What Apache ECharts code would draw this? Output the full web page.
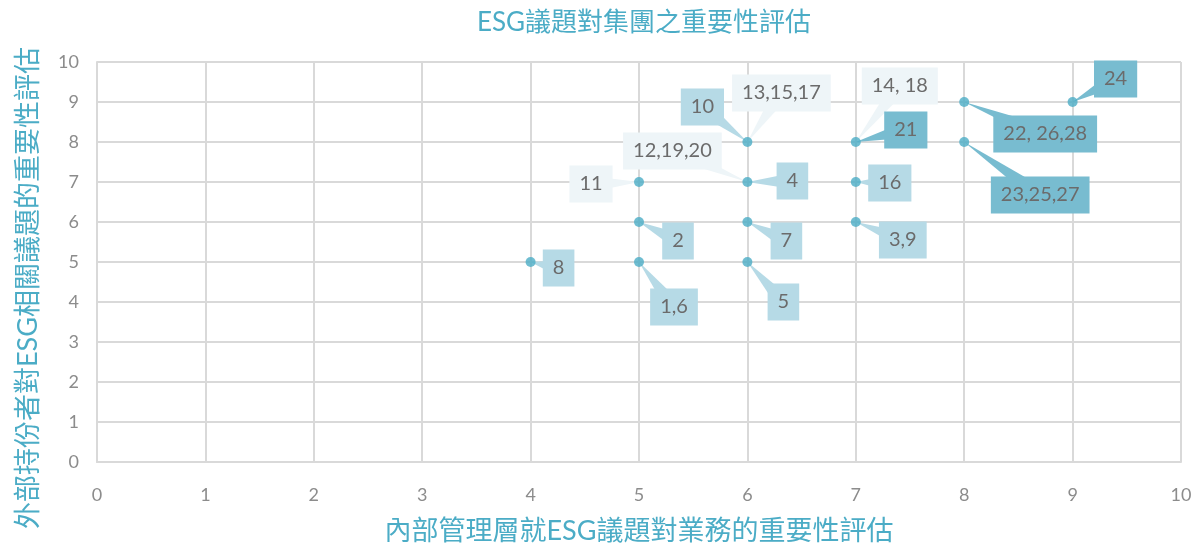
<!DOCTYPE html>
<html>
<head>
<meta charset="utf-8">
<script src="https://cdn.jsdelivr.net/npm/echarts@6/dist/echarts.min.js"></script>
<style>html,body{margin:0;padding:0;background:#fff}#c{width:1203px;height:549px}</style>
</head>
<body>
<div id="c"></div>
<script>
// ---- data ----
const chartTitle = 'ESG議題對集團之重要性評估';
const xAxisName = '內部管理層就ESG議題對業務的重要性評估';
const yAxisName = '外部持份者對ESG相關議題的重要性評估';
const axisTicks = [0, 1, 2, 3, 4, 5, 6, 7, 8, 9, 10];

// issue points (internal score, external score)
const pointX = [4, 5, 5, 5, 6, 6, 6, 6, 7, 7, 7, 8, 8, 9];
const pointY = [5, 5, 6, 7, 5, 6, 7, 8, 6, 7, 8, 8, 9, 9];

// callout labels (issue numbers) attached to points
const labelText = ['8', '1,6', '2', '11', '12,19,20', '4', '7', '5', '10', '13,15,17', '14, 18', '21', '16', '3,9', '22, 26,28', '23,25,27', '24'];
const labelX    = [4, 5, 5, 5, 6, 6, 6, 6, 6, 6, 7, 7, 7, 7, 8, 8, 9];
const labelY    = [5, 5, 6, 7, 7, 7, 6, 5, 8, 8, 8, 8, 7, 6, 9, 8, 9];

// ---- layout / style (not data) ----
const labelOffset = [[28,6],[35,45],[39,19],[-48,2],[-75,-31],[45,-1],[39,19],[36,40],[-45,-35],[34,-49],[44,-56],[50,-12],[34,1],[47,18],[81,32],[76,53],[43,-23]];
const labelTone   = [1,1,1,0,0,1,1,1,1,0,0,2,1,1,2,2,2];
const toneColors  = ['#EEF5F8', '#B6DAE6', '#78BCD0'];
const accent = '#4BACC6';
const font = 'Lato, "Noto Sans CJK TC", sans-serif';

const labelData = labelText.map((t, i) => [labelX[i], labelY[i], i]);

const chart = echarts.init(document.getElementById('c'));
chart.setOption({
  animation: false,
  backgroundColor: '#fff',
  title: {
    text: chartTitle,
    left: 639, top: 5, textAlign: 'center',
    textStyle: { color: accent, fontSize: 26, fontWeight: 'normal', fontFamily: font }
  },
  graphic: [{
    type: 'text', x: 28, y: 288, rotation: Math.PI / 2,
    style: { text: yAxisName, fill: accent, font: '27px ' + font, align: 'center', verticalAlign: 'middle' }
  }],
  grid: { left: 97, right: 22, top: 62, bottom: 87, containLabel: false, outerBoundsMode: 'none' },
  xAxis: {
    type: 'value', min: 0, max: 10, interval: 1,
    name: xAxisName, nameLocation: 'middle', nameGap: 56,
    nameTextStyle: { color: accent, fontSize: 27, fontFamily: font },
    axisLine: { show: true, lineStyle: { color: '#D9D9D9', width: 2 } },
    axisTick: { show: false },
    axisLabel: { color: '#8C8C8C', fontSize: 18, fontFamily: font, margin: 24,
      formatter: v => axisTicks.includes(v) ? String(v) : '' },
    splitLine: { show: true, lineStyle: { color: '#D9D9D9', width: 2 } }
  },
  yAxis: {
    type: 'value', min: 0, max: 10, interval: 1,
    axisLine: { show: true, lineStyle: { color: '#D9D9D9', width: 2 } },
    axisTick: { show: false },
    axisLabel: { color: '#8C8C8C', fontSize: 18, fontFamily: font, margin: 18,
      formatter: v => axisTicks.includes(v) ? String(v) : '' },
    splitLine: { show: true, lineStyle: { color: '#D9D9D9', width: 2 } }
  },
  series: [
    {
      type: 'custom',
      coordinateSystem: 'cartesian2d',
      data: labelData,
      z: 3,
      renderItem: function (params, api) {
        const i = api.value(2);
        const p = api.coord([api.value(0), api.value(1)]);
        const off = labelOffset[i];
        const cx = p[0] + off[0], cy = p[1] + off[1];
        const dx = p[0] - cx, dy = p[1] - cy;
        const len = Math.sqrt(dx * dx + dy * dy) || 1;
        const nx = -dy / len, ny = dx / len;
        const hw = 8;
        const col = toneColors[labelTone[i]];
        return {
          type: 'group',
          children: [
            { type: 'polygon', shape: { points: [[p[0], p[1]], [cx + nx * hw, cy + ny * hw], [cx - nx * hw, cy - ny * hw]] },
              style: { fill: col } },
            { type: 'text', x: cx, y: cy,
              style: { text: labelText[i], fill: '#6B6B6B', font: '20px ' + font,
                align: 'center', verticalAlign: 'middle',
                backgroundColor: col, padding: [9, 10, 8, 10] } }
          ]
        };
      }
    },
    {
      type: 'scatter',
      data: pointX.map((x, i) => [x, pointY[i]]),
      symbol: 'circle', symbolSize: 10,
      itemStyle: { color: accent },
      z: 5
    }
  ]
});
</script>
</body>
</html>
